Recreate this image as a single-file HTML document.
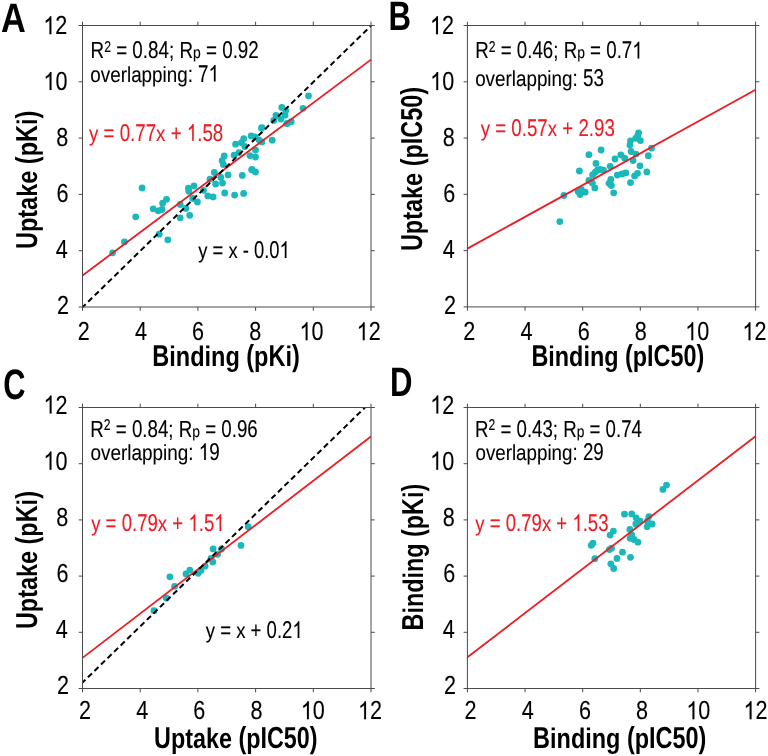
<!DOCTYPE html>
<html><head><meta charset="utf-8"><style>html,body{margin:0;padding:0;background:#fff;}svg{display:block;}</style></head>
<body><div style="filter:blur(0.4px)"><svg width="768" height="756" viewBox="0 0 768 756" text-rendering="geometricPrecision">
<rect width="768" height="756" fill="#fff"/>
<g fill="#1bb8bb"><circle cx="142.1" cy="187.9" r="3.4"/><circle cx="135.7" cy="216.8" r="3.4"/><circle cx="124.5" cy="241.9" r="3.4"/><circle cx="112.6" cy="252.8" r="3.4"/><circle cx="153.2" cy="208.8" r="3.4"/><circle cx="158.2" cy="210.8" r="3.4"/><circle cx="162.0" cy="209.5" r="3.4"/><circle cx="162.6" cy="203.2" r="3.4"/><circle cx="166.5" cy="199.3" r="3.4"/><circle cx="180.2" cy="204.5" r="3.4"/><circle cx="185.8" cy="208.4" r="3.4"/><circle cx="180.2" cy="217.8" r="3.4"/><circle cx="189.7" cy="215.3" r="3.4"/><circle cx="159.2" cy="234.2" r="3.4"/><circle cx="167.8" cy="239.8" r="3.4"/><circle cx="188.4" cy="188.2" r="3.4"/><circle cx="188.8" cy="191.2" r="3.4"/><circle cx="194.0" cy="186.0" r="3.4"/><circle cx="192.7" cy="198.5" r="3.4"/><circle cx="197.4" cy="201.9" r="3.4"/><circle cx="203.5" cy="190.3" r="3.4"/><circle cx="207.8" cy="195.9" r="3.4"/><circle cx="224.2" cy="156.0" r="3.4"/><circle cx="222.1" cy="160.7" r="3.4"/><circle cx="223.4" cy="164.6" r="3.4"/><circle cx="234.1" cy="155.2" r="3.4"/><circle cx="238.9" cy="152.6" r="3.4"/><circle cx="250.0" cy="155.6" r="3.4"/><circle cx="214.3" cy="172.4" r="3.4"/><circle cx="210.0" cy="179.2" r="3.4"/><circle cx="220.8" cy="177.5" r="3.4"/><circle cx="215.6" cy="184.0" r="3.4"/><circle cx="222.5" cy="183.1" r="3.4"/><circle cx="228.1" cy="174.9" r="3.4"/><circle cx="242.3" cy="175.4" r="3.4"/><circle cx="251.7" cy="169.8" r="3.4"/><circle cx="213.1" cy="196.9" r="3.4"/><circle cx="224.7" cy="193.0" r="3.4"/><circle cx="234.6" cy="195.1" r="3.4"/><circle cx="243.6" cy="193.4" r="3.4"/><circle cx="261.5" cy="128.2" r="3.4"/><circle cx="251.2" cy="135.9" r="3.4"/><circle cx="255.0" cy="136.8" r="3.4"/><circle cx="243.7" cy="138.7" r="3.4"/><circle cx="241.5" cy="142.7" r="3.4"/><circle cx="235.6" cy="144.2" r="3.4"/><circle cx="244.8" cy="146.5" r="3.4"/><circle cx="258.9" cy="139.8" r="3.4"/><circle cx="261.9" cy="141.9" r="3.4"/><circle cx="272.2" cy="140.2" r="3.4"/><circle cx="255.5" cy="150.1" r="3.4"/><circle cx="255.5" cy="157.0" r="3.4"/><circle cx="252.0" cy="169.4" r="3.4"/><circle cx="255.5" cy="172.0" r="3.4"/><circle cx="287.3" cy="123.4" r="3.4"/><circle cx="291.2" cy="121.7" r="3.4"/><circle cx="281.8" cy="107.4" r="3.4"/><circle cx="285.7" cy="110.6" r="3.4"/><circle cx="276.0" cy="115.5" r="3.4"/><circle cx="273.7" cy="120.4" r="3.4"/><circle cx="280.8" cy="119.1" r="3.4"/><circle cx="285.1" cy="115.2" r="3.4"/><circle cx="286.7" cy="123.6" r="3.4"/><circle cx="303.0" cy="108.3" r="3.4"/><circle cx="308.5" cy="95.8" r="3.4"/><circle cx="262.0" cy="127.6" r="3.4"/><circle cx="588.9" cy="154.7" r="3.4"/><circle cx="579.4" cy="171.0" r="3.4"/><circle cx="596.0" cy="163.4" r="3.4"/><circle cx="597.6" cy="170.0" r="3.4"/><circle cx="595.3" cy="172.2" r="3.4"/><circle cx="592.6" cy="174.8" r="3.4"/><circle cx="588.9" cy="180.5" r="3.4"/><circle cx="592.4" cy="183.1" r="3.4"/><circle cx="594.8" cy="187.9" r="3.4"/><circle cx="578.1" cy="191.4" r="3.4"/><circle cx="581.3" cy="189.4" r="3.4"/><circle cx="585.2" cy="192.2" r="3.4"/><circle cx="580.1" cy="194.5" r="3.4"/><circle cx="563.9" cy="195.5" r="3.4"/><circle cx="559.8" cy="221.6" r="3.4"/><circle cx="601.1" cy="150.0" r="3.4"/><circle cx="615.0" cy="159.0" r="3.4"/><circle cx="620.8" cy="154.8" r="3.4"/><circle cx="624.7" cy="158.2" r="3.4"/><circle cx="610.2" cy="166.3" r="3.4"/><circle cx="600.3" cy="169.4" r="3.4"/><circle cx="603.5" cy="170.2" r="3.4"/><circle cx="617.3" cy="175.1" r="3.4"/><circle cx="622.0" cy="174.0" r="3.4"/><circle cx="625.8" cy="172.9" r="3.4"/><circle cx="610.8" cy="179.5" r="3.4"/><circle cx="609.0" cy="183.3" r="3.4"/><circle cx="611.4" cy="185.5" r="3.4"/><circle cx="613.7" cy="192.8" r="3.4"/><circle cx="630.5" cy="182.6" r="3.4"/><circle cx="634.6" cy="175.9" r="3.4"/><circle cx="637.5" cy="173.3" r="3.4"/><circle cx="640.0" cy="165.8" r="3.4"/><circle cx="633.1" cy="160.6" r="3.4"/><circle cx="631.1" cy="151.5" r="3.4"/><circle cx="636.0" cy="154.1" r="3.4"/><circle cx="629.9" cy="145.1" r="3.4"/><circle cx="630.5" cy="140.8" r="3.4"/><circle cx="638.6" cy="133.0" r="3.4"/><circle cx="637.6" cy="135.9" r="3.4"/><circle cx="635.6" cy="138.3" r="3.4"/><circle cx="640.4" cy="140.6" r="3.4"/><circle cx="648.3" cy="155.7" r="3.4"/><circle cx="651.5" cy="148.2" r="3.4"/><circle cx="646.8" cy="171.9" r="3.4"/><circle cx="154.0" cy="610.7" r="3.4"/><circle cx="166.2" cy="598.0" r="3.4"/><circle cx="174.6" cy="586.3" r="3.4"/><circle cx="169.9" cy="576.8" r="3.4"/><circle cx="186.0" cy="573.9" r="3.4"/><circle cx="189.8" cy="570.1" r="3.4"/><circle cx="198.2" cy="573.3" r="3.4"/><circle cx="200.9" cy="570.4" r="3.4"/><circle cx="205.0" cy="566.2" r="3.4"/><circle cx="211.0" cy="558.5" r="3.4"/><circle cx="212.8" cy="562.0" r="3.4"/><circle cx="213.1" cy="548.9" r="3.4"/><circle cx="217.5" cy="554.3" r="3.4"/><circle cx="221.5" cy="549.0" r="3.4"/><circle cx="241.0" cy="545.4" r="3.4"/><circle cx="248.2" cy="526.7" r="3.4"/><circle cx="666.5" cy="485.1" r="3.4"/><circle cx="662.9" cy="489.4" r="3.4"/><circle cx="624.5" cy="514.2" r="3.4"/><circle cx="631.7" cy="513.9" r="3.4"/><circle cx="636.1" cy="517.8" r="3.4"/><circle cx="640.0" cy="521.1" r="3.4"/><circle cx="635.8" cy="524.0" r="3.4"/><circle cx="648.9" cy="516.6" r="3.4"/><circle cx="647.4" cy="521.1" r="3.4"/><circle cx="652.2" cy="524.0" r="3.4"/><circle cx="647.1" cy="526.7" r="3.4"/><circle cx="629.9" cy="529.4" r="3.4"/><circle cx="631.7" cy="534.8" r="3.4"/><circle cx="630.2" cy="538.3" r="3.4"/><circle cx="634.0" cy="539.5" r="3.4"/><circle cx="637.9" cy="542.2" r="3.4"/><circle cx="613.4" cy="531.1" r="3.4"/><circle cx="610.1" cy="535.1" r="3.4"/><circle cx="593.0" cy="543.1" r="3.4"/><circle cx="591.2" cy="545.3" r="3.4"/><circle cx="611.5" cy="548.2" r="3.4"/><circle cx="609.4" cy="549.6" r="3.4"/><circle cx="594.8" cy="558.7" r="3.4"/><circle cx="622.5" cy="552.2" r="3.4"/><circle cx="617.0" cy="558.4" r="3.4"/><circle cx="630.5" cy="557.3" r="3.4"/><circle cx="610.8" cy="563.8" r="3.4"/><circle cx="613.7" cy="568.5" r="3.4"/></g>
<line x1="82.50" y1="275.47" x2="371.00" y2="59.62" stroke="#ec1c24" stroke-width="1.8"/><line x1="82.79" y1="307.00" x2="371.00" y2="25.78" stroke="#000" stroke-width="2" stroke-dasharray="5.6 3.55" stroke-dashoffset="1.6"/><line x1="467.40" y1="248.65" x2="755.60" y2="89.75" stroke="#ec1c24" stroke-width="1.8"/><line x1="82.50" y1="657.87" x2="371.00" y2="436.48" stroke="#ec1c24" stroke-width="1.8"/><line x1="82.50" y1="682.60" x2="364.94" y2="407.50" stroke="#000" stroke-width="2" stroke-dasharray="5.6 3.55" stroke-dashoffset="1.6"/><line x1="467.40" y1="657.31" x2="755.60" y2="436.22" stroke="#ec1c24" stroke-width="1.8"/>
<g stroke="#4a4a4a" stroke-width="1" fill="none"><rect x="82.5" y="25.5" width="288.50" height="281.50" fill="none"/><path d="M82.50 307.00v3.8M82.50 25.50v-3.8M82.50 307.00h-3.8M371.00 307.00h3.8M140.20 307.00v3.8M140.20 25.50v-3.8M82.50 250.70h-3.8M371.00 250.70h3.8M197.90 307.00v3.8M197.90 25.50v-3.8M82.50 194.40h-3.8M371.00 194.40h3.8M255.60 307.00v3.8M255.60 25.50v-3.8M82.50 138.10h-3.8M371.00 138.10h3.8M313.30 307.00v3.8M313.30 25.50v-3.8M82.50 81.80h-3.8M371.00 81.80h3.8M371.00 307.00v3.8M371.00 25.50v-3.8M82.50 25.50h-3.8M371.00 25.50h3.8"/><rect x="467.4" y="25.5" width="288.20" height="281.40" fill="none"/><path d="M467.40 306.90v3.8M467.40 25.50v-3.8M467.40 306.90h-3.8M755.60 306.90h3.8M525.04 306.90v3.8M525.04 25.50v-3.8M467.40 250.62h-3.8M755.60 250.62h3.8M582.68 306.90v3.8M582.68 25.50v-3.8M467.40 194.34h-3.8M755.60 194.34h3.8M640.32 306.90v3.8M640.32 25.50v-3.8M467.40 138.06h-3.8M755.60 138.06h3.8M697.96 306.90v3.8M697.96 25.50v-3.8M467.40 81.78h-3.8M755.60 81.78h3.8M755.60 306.90v3.8M755.60 25.50v-3.8M467.40 25.50h-3.8M755.60 25.50h3.8"/><rect x="82.5" y="407.5" width="288.50" height="281.00" fill="none"/><path d="M82.50 688.50v3.8M82.50 407.50v-3.8M82.50 688.50h-3.8M371.00 688.50h3.8M140.20 688.50v3.8M140.20 407.50v-3.8M82.50 632.30h-3.8M371.00 632.30h3.8M197.90 688.50v3.8M197.90 407.50v-3.8M82.50 576.10h-3.8M371.00 576.10h3.8M255.60 688.50v3.8M255.60 407.50v-3.8M82.50 519.90h-3.8M371.00 519.90h3.8M313.30 688.50v3.8M313.30 407.50v-3.8M82.50 463.70h-3.8M371.00 463.70h3.8M371.00 688.50v3.8M371.00 407.50v-3.8M82.50 407.50h-3.8M371.00 407.50h3.8"/><rect x="467.4" y="407.5" width="288.20" height="281.00" fill="none"/><path d="M467.40 688.50v3.8M467.40 407.50v-3.8M467.40 688.50h-3.8M755.60 688.50h3.8M525.04 688.50v3.8M525.04 407.50v-3.8M467.40 632.30h-3.8M755.60 632.30h3.8M582.68 688.50v3.8M582.68 407.50v-3.8M467.40 576.10h-3.8M755.60 576.10h3.8M640.32 688.50v3.8M640.32 407.50v-3.8M467.40 519.90h-3.8M755.60 519.90h3.8M697.96 688.50v3.8M697.96 407.50v-3.8M467.40 463.70h-3.8M755.60 463.70h3.8M755.60 688.50v3.8M755.60 407.50v-3.8M467.40 407.50h-3.8M755.60 407.50h3.8"/></g>
<g transform="translate(0.91,32.00) scale(0.8370,1)"><g font-family="Liberation Sans" font-weight="bold" fill="#000" style="white-space:pre"><text x="0.00" y="0.00" font-size="41.00">A</text></g></g><g transform="translate(388.47,29.90) scale(0.7600,1)"><g font-family="Liberation Sans" font-weight="bold" fill="#000" style="white-space:pre"><text x="0.00" y="0.00" font-size="41.00">B</text></g></g><g transform="translate(3.21,398.60) scale(0.7222,1)"><g font-family="Liberation Sans" font-weight="bold" fill="#000" style="white-space:pre"><text x="0.00" y="0.00" font-size="42.60">C</text></g></g><g transform="translate(390.07,395.90) scale(0.7600,1)"><g font-family="Liberation Sans" font-weight="bold" fill="#000" style="white-space:pre"><text x="0.00" y="0.00" font-size="41.00">D</text></g></g><g transform="translate(90.54,58.40) scale(0.8073,1)"><g font-family="Liberation Sans" fill="#000" stroke="#000" stroke-width="0.12" stroke-linejoin="round" style="white-space:pre"><text x="0.00" y="0.00" font-size="23.30">R</text><text transform="translate(16.83,-6.76) scale(1,1.04)" font-size="15.15">2</text><text x="31.72" y="0.00" font-size="23.30">=</text><text transform="translate(51.80,0.00) scale(1,1.04)" font-size="23.30">0</text><text x="64.75" y="0.00" font-size="23.30">.</text><text transform="translate(71.22,0.00) scale(1,1.04)" font-size="23.30">84</text><text x="97.14" y="0.00" font-size="23.30">; R</text><text transform="translate(126.92,0.00) scale(1,0.935)" font-size="17.24">p</text><text x="142.98" y="0.00" font-size="23.30">=</text><text transform="translate(163.06,0.00) scale(1,1.04)" font-size="23.30">0</text><text x="176.02" y="0.00" font-size="23.30">.</text><text transform="translate(182.48,0.00) scale(1,1.04)" font-size="23.30">92</text></g></g><g transform="translate(90.34,81.60) scale(0.8078,1)"><g font-family="Liberation Sans" fill="#000" stroke="#000" stroke-width="0.12" stroke-linejoin="round" style="white-space:pre"><text transform="translate(0.00,0.00) scale(1,0.935)" font-size="23.30">overlapping</text><text x="120.45" y="0.00" font-size="23.30">:</text><text transform="translate(133.39,0.00) scale(1,1.04)" font-size="23.30">7 </text></g><g fill="#000" stroke="#000" stroke-width="10.5" stroke-linejoin="round"><path transform="translate(146.34,0.00) scale(0.01138,-0.01138)" d="M763 0L583 0L583 1147Q518 1085 412 1023Q306 961 223 930L223 1104Q369 1173 479 1271Q589 1369 635 1466L763 1466Z"/></g></g><g transform="translate(475.14,58.40) scale(0.8040,1)"><g font-family="Liberation Sans" fill="#000" stroke="#000" stroke-width="0.12" stroke-linejoin="round" style="white-space:pre"><text x="0.00" y="0.00" font-size="23.30">R</text><text transform="translate(16.83,-6.76) scale(1,1.04)" font-size="15.15">2</text><text x="31.72" y="0.00" font-size="23.30">=</text><text transform="translate(51.80,0.00) scale(1,1.04)" font-size="23.30">0</text><text x="64.75" y="0.00" font-size="23.30">.</text><text transform="translate(71.22,0.00) scale(1,1.04)" font-size="23.30">46</text><text x="97.14" y="0.00" font-size="23.30">; R</text><text transform="translate(126.92,0.00) scale(1,0.935)" font-size="17.24">p</text><text x="142.98" y="0.00" font-size="23.30">=</text><text transform="translate(163.06,0.00) scale(1,1.04)" font-size="23.30">0</text><text x="176.02" y="0.00" font-size="23.30">.</text><text transform="translate(182.48,0.00) scale(1,1.04)" font-size="23.30">7 </text></g><g fill="#000" stroke="#000" stroke-width="10.5" stroke-linejoin="round"><path transform="translate(195.44,0.00) scale(0.01138,-0.01138)" d="M763 0L583 0L583 1147Q518 1085 412 1023Q306 961 223 930L223 1104Q369 1173 479 1271Q589 1369 635 1466L763 1466Z"/></g></g><g transform="translate(475.14,86.00) scale(0.8083,1)"><g font-family="Liberation Sans" fill="#000" stroke="#000" stroke-width="0.12" stroke-linejoin="round" style="white-space:pre"><text transform="translate(0.00,0.00) scale(1,0.935)" font-size="23.30">overlapping</text><text x="120.45" y="0.00" font-size="23.30">:</text><text transform="translate(133.39,0.00) scale(1,1.04)" font-size="23.30">53</text></g></g><g transform="translate(90.34,437.00) scale(0.8034,1)"><g font-family="Liberation Sans" fill="#000" stroke="#000" stroke-width="0.12" stroke-linejoin="round" style="white-space:pre"><text x="0.00" y="0.00" font-size="23.30">R</text><text transform="translate(16.83,-6.76) scale(1,1.04)" font-size="15.15">2</text><text x="31.72" y="0.00" font-size="23.30">=</text><text transform="translate(51.80,0.00) scale(1,1.04)" font-size="23.30">0</text><text x="64.75" y="0.00" font-size="23.30">.</text><text transform="translate(71.22,0.00) scale(1,1.04)" font-size="23.30">84</text><text x="97.14" y="0.00" font-size="23.30">; R</text><text transform="translate(126.92,0.00) scale(1,0.935)" font-size="17.24">p</text><text x="142.98" y="0.00" font-size="23.30">=</text><text transform="translate(163.06,0.00) scale(1,1.04)" font-size="23.30">0</text><text x="176.02" y="0.00" font-size="23.30">.</text><text transform="translate(182.48,0.00) scale(1,1.04)" font-size="23.30">96</text></g></g><g transform="translate(90.44,460.00) scale(0.8121,1)"><g font-family="Liberation Sans" fill="#000" stroke="#000" stroke-width="0.12" stroke-linejoin="round" style="white-space:pre"><text transform="translate(0.00,0.00) scale(1,0.935)" font-size="23.30">overlapping</text><text x="120.45" y="0.00" font-size="23.30">:</text><text transform="translate(133.39,0.00) scale(1,1.04)" font-size="23.30"> 9</text></g><g fill="#000" stroke="#000" stroke-width="10.5" stroke-linejoin="round"><path transform="translate(133.39,0.00) scale(0.01138,-0.01138)" d="M763 0L583 0L583 1147Q518 1085 412 1023Q306 961 223 930L223 1104Q369 1173 479 1271Q589 1369 635 1466L763 1466Z"/></g></g><g transform="translate(475.05,437.00) scale(0.8005,1)"><g font-family="Liberation Sans" fill="#000" stroke="#000" stroke-width="0.12" stroke-linejoin="round" style="white-space:pre"><text x="0.00" y="0.00" font-size="23.30">R</text><text transform="translate(16.83,-6.76) scale(1,1.04)" font-size="15.15">2</text><text x="31.72" y="0.00" font-size="23.30">=</text><text transform="translate(51.80,0.00) scale(1,1.04)" font-size="23.30">0</text><text x="64.75" y="0.00" font-size="23.30">.</text><text transform="translate(71.22,0.00) scale(1,1.04)" font-size="23.30">43</text><text x="97.14" y="0.00" font-size="23.30">; R</text><text transform="translate(126.92,0.00) scale(1,0.935)" font-size="17.24">p</text><text x="142.98" y="0.00" font-size="23.30">=</text><text transform="translate(163.06,0.00) scale(1,1.04)" font-size="23.30">0</text><text x="176.02" y="0.00" font-size="23.30">.</text><text transform="translate(182.48,0.00) scale(1,1.04)" font-size="23.30">74</text></g></g><g transform="translate(475.44,460.00) scale(0.8057,1)"><g font-family="Liberation Sans" fill="#000" stroke="#000" stroke-width="0.12" stroke-linejoin="round" style="white-space:pre"><text transform="translate(0.00,0.00) scale(1,0.935)" font-size="23.30">overlapping</text><text x="120.45" y="0.00" font-size="23.30">:</text><text transform="translate(133.39,0.00) scale(1,1.04)" font-size="23.30">29</text></g></g><g transform="translate(89.05,140.80) scale(0.8030,1)"><g font-family="Liberation Sans" fill="#ec1c24" stroke="#ec1c24" stroke-width="0.12" stroke-linejoin="round" style="white-space:pre"><text transform="translate(0.00,0.00) scale(1,0.935)" font-size="23.30">y</text><text x="18.11" y="0.00" font-size="23.30">=</text><text transform="translate(38.19,0.00) scale(1,1.04)" font-size="23.30">0</text><text x="51.14" y="0.00" font-size="23.30">.</text><text transform="translate(57.62,0.00) scale(1,1.04)" font-size="23.30">77</text><text transform="translate(83.53,0.00) scale(1,0.935)" font-size="23.30">x</text><text x="101.66" y="0.00" font-size="23.30">+</text><text x="134.69" y="0.00" font-size="23.30">.</text><text transform="translate(141.16,0.00) scale(1,1.04)" font-size="23.30">58</text></g><g fill="#ec1c24" stroke="#ec1c24" stroke-width="10.5" stroke-linejoin="round"><path transform="translate(121.73,0.00) scale(0.01138,-0.01138)" d="M763 0L583 0L583 1147Q518 1085 412 1023Q306 961 223 930L223 1104Q369 1173 479 1271Q589 1369 635 1466L763 1466Z"/></g></g><g transform="translate(480.65,135.80) scale(0.8030,1)"><g font-family="Liberation Sans" fill="#ec1c24" stroke="#ec1c24" stroke-width="0.12" stroke-linejoin="round" style="white-space:pre"><text transform="translate(0.00,0.00) scale(1,0.935)" font-size="23.30">y</text><text x="18.11" y="0.00" font-size="23.30">=</text><text transform="translate(38.19,0.00) scale(1,1.04)" font-size="23.30">0</text><text x="51.14" y="0.00" font-size="23.30">.</text><text transform="translate(57.62,0.00) scale(1,1.04)" font-size="23.30">57</text><text transform="translate(83.53,0.00) scale(1,0.935)" font-size="23.30">x</text><text x="101.66" y="0.00" font-size="23.30">+</text><text transform="translate(121.73,0.00) scale(1,1.04)" font-size="23.30">2</text><text x="134.69" y="0.00" font-size="23.30">.</text><text transform="translate(141.16,0.00) scale(1,1.04)" font-size="23.30">93</text></g></g><g transform="translate(91.15,531.00) scale(0.7988,1)"><g font-family="Liberation Sans" fill="#ec1c24" stroke="#ec1c24" stroke-width="0.12" stroke-linejoin="round" style="white-space:pre"><text transform="translate(0.00,0.00) scale(1,0.935)" font-size="23.30">y</text><text x="18.11" y="0.00" font-size="23.30">=</text><text transform="translate(38.19,0.00) scale(1,1.04)" font-size="23.30">0</text><text x="51.14" y="0.00" font-size="23.30">.</text><text transform="translate(57.62,0.00) scale(1,1.04)" font-size="23.30">79</text><text transform="translate(83.53,0.00) scale(1,0.935)" font-size="23.30">x</text><text x="101.66" y="0.00" font-size="23.30">+</text><text x="134.69" y="0.00" font-size="23.30">.</text><text transform="translate(141.16,0.00) scale(1,1.04)" font-size="23.30">5 </text></g><g fill="#ec1c24" stroke="#ec1c24" stroke-width="10.5" stroke-linejoin="round"><path transform="translate(121.73,0.00) scale(0.01138,-0.01138)" d="M763 0L583 0L583 1147Q518 1085 412 1023Q306 961 223 930L223 1104Q369 1173 479 1271Q589 1369 635 1466L763 1466Z"/><path transform="translate(154.12,0.00) scale(0.01138,-0.01138)" d="M763 0L583 0L583 1147Q518 1085 412 1023Q306 961 223 930L223 1104Q369 1173 479 1271Q589 1369 635 1466L763 1466Z"/></g></g><g transform="translate(475.35,531.00) scale(0.7970,1)"><g font-family="Liberation Sans" fill="#ec1c24" stroke="#ec1c24" stroke-width="0.12" stroke-linejoin="round" style="white-space:pre"><text transform="translate(0.00,0.00) scale(1,0.935)" font-size="23.30">y</text><text x="18.11" y="0.00" font-size="23.30">=</text><text transform="translate(38.19,0.00) scale(1,1.04)" font-size="23.30">0</text><text x="51.14" y="0.00" font-size="23.30">.</text><text transform="translate(57.62,0.00) scale(1,1.04)" font-size="23.30">79</text><text transform="translate(83.53,0.00) scale(1,0.935)" font-size="23.30">x</text><text x="101.66" y="0.00" font-size="23.30">+</text><text x="134.69" y="0.00" font-size="23.30">.</text><text transform="translate(141.16,0.00) scale(1,1.04)" font-size="23.30">53</text></g><g fill="#ec1c24" stroke="#ec1c24" stroke-width="10.5" stroke-linejoin="round"><path transform="translate(121.73,0.00) scale(0.01138,-0.01138)" d="M763 0L583 0L583 1147Q518 1085 412 1023Q306 961 223 930L223 1104Q369 1173 479 1271Q589 1369 635 1466L763 1466Z"/></g></g><g transform="translate(198.25,258.00) scale(0.7902,1)"><g font-family="Liberation Sans" fill="#000" stroke="#000" stroke-width="0.12" stroke-linejoin="round" style="white-space:pre"><text transform="translate(0.00,0.00) scale(1,0.935)" font-size="23.30">y</text><text x="18.11" y="0.00" font-size="23.30">=</text><text transform="translate(38.19,0.00) scale(1,0.935)" font-size="23.30">x</text><text x="56.31" y="0.00" font-size="23.30">-</text><text transform="translate(70.55,0.00) scale(1,1.04)" font-size="23.30">0</text><text x="83.50" y="0.00" font-size="23.30">.</text><text transform="translate(89.97,0.00) scale(1,1.04)" font-size="23.30">0 </text></g><g fill="#000" stroke="#000" stroke-width="10.5" stroke-linejoin="round"><path transform="translate(102.92,0.00) scale(0.01138,-0.01138)" d="M763 0L583 0L583 1147Q518 1085 412 1023Q306 961 223 930L223 1104Q369 1173 479 1271Q589 1369 635 1466L763 1466Z"/></g></g><g transform="translate(205.75,638.00) scale(0.7966,1)"><g font-family="Liberation Sans" fill="#000" stroke="#000" stroke-width="0.12" stroke-linejoin="round" style="white-space:pre"><text transform="translate(0.00,0.00) scale(1,0.935)" font-size="23.30">y</text><text x="18.11" y="0.00" font-size="23.30">=</text><text transform="translate(38.19,0.00) scale(1,0.935)" font-size="23.30">x</text><text x="56.31" y="0.00" font-size="23.30">+</text><text transform="translate(76.39,0.00) scale(1,1.04)" font-size="23.30">0</text><text x="89.34" y="0.00" font-size="23.30">.</text><text transform="translate(95.81,0.00) scale(1,1.04)" font-size="23.30">2 </text></g><g fill="#000" stroke="#000" stroke-width="10.5" stroke-linejoin="round"><path transform="translate(108.78,0.00) scale(0.01138,-0.01138)" d="M763 0L583 0L583 1147Q518 1085 412 1023Q306 961 223 930L223 1104Q369 1173 479 1271Q589 1369 635 1466L763 1466Z"/></g></g><g transform="translate(152.30,365.60) scale(0.7759,1)"><g font-family="Liberation Sans" font-weight="bold" fill="#000" style="white-space:pre"><text x="0.00" y="0.00" font-size="30.30">B</text><text transform="translate(21.88,0.00) scale(1,0.935)" font-size="30.30">inding</text><text x="121.16" y="0.00" font-size="30.30">(</text><text transform="translate(131.23,0.00) scale(1,0.935)" font-size="30.30">p</text><text x="149.75" y="0.00" font-size="30.30">K</text><text transform="translate(171.62,0.00) scale(1,0.935)" font-size="30.30">i</text><text x="180.05" y="0.00" font-size="30.30">)</text></g></g><g transform="translate(531.41,365.60) scale(0.7723,1)"><g font-family="Liberation Sans" font-weight="bold" fill="#000" style="white-space:pre"><text x="0.00" y="0.00" font-size="30.30">B</text><text transform="translate(21.88,0.00) scale(1,0.935)" font-size="30.30">inding</text><text x="121.16" y="0.00" font-size="30.30">(</text><text transform="translate(131.23,0.00) scale(1,0.935)" font-size="30.30">p</text><text x="149.75" y="0.00" font-size="30.30">IC50)</text></g></g><g transform="translate(154.11,748.20) scale(0.7703,1)"><g font-family="Liberation Sans" font-weight="bold" fill="#000" style="white-space:pre"><text x="0.00" y="0.00" font-size="30.30">U</text><text transform="translate(21.88,0.00) scale(1,0.935)" font-size="30.30">ptake</text><text x="109.44" y="0.00" font-size="30.30">(</text><text transform="translate(119.52,0.00) scale(1,0.935)" font-size="30.30">p</text><text x="138.03" y="0.00" font-size="30.30">IC50)</text></g></g><g transform="translate(533.10,748.20) scale(0.7741,1)"><g font-family="Liberation Sans" font-weight="bold" fill="#000" style="white-space:pre"><text x="0.00" y="0.00" font-size="30.30">B</text><text transform="translate(21.88,0.00) scale(1,0.935)" font-size="30.30">inding</text><text x="121.16" y="0.00" font-size="30.30">(</text><text transform="translate(131.23,0.00) scale(1,0.935)" font-size="30.30">p</text><text x="149.75" y="0.00" font-size="30.30">IC50)</text></g></g><g transform="translate(36.50,249.10) rotate(-90) scale(0.7760,1)"><g font-family="Liberation Sans" font-weight="bold" fill="#000" style="white-space:pre"><text x="0.00" y="0.00" font-size="30.30">U</text><text transform="translate(21.88,0.00) scale(1,0.935)" font-size="30.30">ptake</text><text x="109.44" y="0.00" font-size="30.30">(</text><text transform="translate(119.52,0.00) scale(1,0.935)" font-size="30.30">p</text><text x="138.03" y="0.00" font-size="30.30">K</text><text transform="translate(159.91,0.00) scale(1,0.935)" font-size="30.30">i</text><text x="168.33" y="0.00" font-size="30.30">)</text></g></g><g transform="translate(422.40,251.10) rotate(-90) scale(0.7742,1)"><g font-family="Liberation Sans" font-weight="bold" fill="#000" style="white-space:pre"><text x="0.00" y="0.00" font-size="30.30">U</text><text transform="translate(21.88,0.00) scale(1,0.935)" font-size="30.30">ptake</text><text x="109.44" y="0.00" font-size="30.30">(</text><text transform="translate(119.52,0.00) scale(1,0.935)" font-size="30.30">p</text><text x="138.03" y="0.00" font-size="30.30">IC50)</text></g></g><g transform="translate(36.50,629.10) rotate(-90) scale(0.7737,1)"><g font-family="Liberation Sans" font-weight="bold" fill="#000" style="white-space:pre"><text x="0.00" y="0.00" font-size="30.30">U</text><text transform="translate(21.88,0.00) scale(1,0.935)" font-size="30.30">ptake</text><text x="109.44" y="0.00" font-size="30.30">(</text><text transform="translate(119.52,0.00) scale(1,0.935)" font-size="30.30">p</text><text x="138.03" y="0.00" font-size="30.30">K</text><text transform="translate(159.91,0.00) scale(1,0.935)" font-size="30.30">i</text><text x="168.33" y="0.00" font-size="30.30">)</text></g></g><g transform="translate(422.60,630.39) rotate(-90) scale(0.7711,1)"><g font-family="Liberation Sans" font-weight="bold" fill="#000" style="white-space:pre"><text x="0.00" y="0.00" font-size="30.30">B</text><text transform="translate(21.88,0.00) scale(1,0.935)" font-size="30.30">inding</text><text x="121.16" y="0.00" font-size="30.30">(</text><text transform="translate(131.23,0.00) scale(1,0.935)" font-size="30.30">p</text><text x="149.75" y="0.00" font-size="30.30">K</text><text transform="translate(171.62,0.00) scale(1,0.935)" font-size="30.30">i</text><text x="180.05" y="0.00" font-size="30.30">)</text></g></g><g transform="translate(77.76,340.30) scale(0.856,1)"><g font-family="Liberation Sans" fill="#000" stroke="#000" stroke-width="0.12" stroke-linejoin="round" style="white-space:pre"><text transform="translate(0.00,0.00) scale(1,1.04)" font-size="25.20">2</text></g></g><g transform="translate(134.91,340.30) scale(0.856,1)"><g font-family="Liberation Sans" fill="#000" stroke="#000" stroke-width="0.12" stroke-linejoin="round" style="white-space:pre"><text transform="translate(0.00,0.00) scale(1,1.04)" font-size="25.20">4</text></g></g><g transform="translate(192.06,340.30) scale(0.856,1)"><g font-family="Liberation Sans" fill="#000" stroke="#000" stroke-width="0.12" stroke-linejoin="round" style="white-space:pre"><text transform="translate(0.00,0.00) scale(1,1.04)" font-size="25.20">6</text></g></g><g transform="translate(249.21,340.30) scale(0.856,1)"><g font-family="Liberation Sans" fill="#000" stroke="#000" stroke-width="0.12" stroke-linejoin="round" style="white-space:pre"><text transform="translate(0.00,0.00) scale(1,1.04)" font-size="25.20">8</text></g></g><g transform="translate(299.51,340.30) scale(0.856,1)"><g font-family="Liberation Sans" fill="#000" stroke="#000" stroke-width="0.12" stroke-linejoin="round" style="white-space:pre"><text transform="translate(0.00,0.00) scale(1,1.04)" font-size="25.20"> 0</text></g><g fill="#000" stroke="#000" stroke-width="9.8" stroke-linejoin="round"><path transform="translate(0.00,0.00) scale(0.01230,-0.01230)" d="M763 0L583 0L583 1147Q518 1085 412 1023Q306 961 223 930L223 1104Q369 1173 479 1271Q589 1369 635 1466L763 1466Z"/></g></g><g transform="translate(356.66,340.30) scale(0.856,1)"><g font-family="Liberation Sans" fill="#000" stroke="#000" stroke-width="0.12" stroke-linejoin="round" style="white-space:pre"><text transform="translate(0.00,0.00) scale(1,1.04)" font-size="25.20"> 2</text></g><g fill="#000" stroke="#000" stroke-width="9.8" stroke-linejoin="round"><path transform="translate(0.00,0.00) scale(0.01230,-0.01230)" d="M763 0L583 0L583 1147Q518 1085 412 1023Q306 961 223 930L223 1104Q369 1173 479 1271Q589 1369 635 1466L763 1466Z"/></g></g><g transform="translate(463.26,340.30) scale(0.856,1)"><g font-family="Liberation Sans" fill="#000" stroke="#000" stroke-width="0.12" stroke-linejoin="round" style="white-space:pre"><text transform="translate(0.00,0.00) scale(1,1.04)" font-size="25.20">2</text></g></g><g transform="translate(520.46,340.30) scale(0.856,1)"><g font-family="Liberation Sans" fill="#000" stroke="#000" stroke-width="0.12" stroke-linejoin="round" style="white-space:pre"><text transform="translate(0.00,0.00) scale(1,1.04)" font-size="25.20">4</text></g></g><g transform="translate(577.66,340.30) scale(0.856,1)"><g font-family="Liberation Sans" fill="#000" stroke="#000" stroke-width="0.12" stroke-linejoin="round" style="white-space:pre"><text transform="translate(0.00,0.00) scale(1,1.04)" font-size="25.20">6</text></g></g><g transform="translate(634.86,340.30) scale(0.856,1)"><g font-family="Liberation Sans" fill="#000" stroke="#000" stroke-width="0.12" stroke-linejoin="round" style="white-space:pre"><text transform="translate(0.00,0.00) scale(1,1.04)" font-size="25.20">8</text></g></g><g transform="translate(685.21,340.30) scale(0.856,1)"><g font-family="Liberation Sans" fill="#000" stroke="#000" stroke-width="0.12" stroke-linejoin="round" style="white-space:pre"><text transform="translate(0.00,0.00) scale(1,1.04)" font-size="25.20"> 0</text></g><g fill="#000" stroke="#000" stroke-width="9.8" stroke-linejoin="round"><path transform="translate(0.00,0.00) scale(0.01230,-0.01230)" d="M763 0L583 0L583 1147Q518 1085 412 1023Q306 961 223 930L223 1104Q369 1173 479 1271Q589 1369 635 1466L763 1466Z"/></g></g><g transform="translate(742.41,340.30) scale(0.856,1)"><g font-family="Liberation Sans" fill="#000" stroke="#000" stroke-width="0.12" stroke-linejoin="round" style="white-space:pre"><text transform="translate(0.00,0.00) scale(1,1.04)" font-size="25.20"> 2</text></g><g fill="#000" stroke="#000" stroke-width="9.8" stroke-linejoin="round"><path transform="translate(0.00,0.00) scale(0.01230,-0.01230)" d="M763 0L583 0L583 1147Q518 1085 412 1023Q306 961 223 930L223 1104Q369 1173 479 1271Q589 1369 635 1466L763 1466Z"/></g></g><g transform="translate(78.96,719.30) scale(0.856,1)"><g font-family="Liberation Sans" fill="#000" stroke="#000" stroke-width="0.12" stroke-linejoin="round" style="white-space:pre"><text transform="translate(0.00,0.00) scale(1,1.04)" font-size="25.20">2</text></g></g><g transform="translate(136.14,719.30) scale(0.856,1)"><g font-family="Liberation Sans" fill="#000" stroke="#000" stroke-width="0.12" stroke-linejoin="round" style="white-space:pre"><text transform="translate(0.00,0.00) scale(1,1.04)" font-size="25.20">4</text></g></g><g transform="translate(193.32,719.30) scale(0.856,1)"><g font-family="Liberation Sans" fill="#000" stroke="#000" stroke-width="0.12" stroke-linejoin="round" style="white-space:pre"><text transform="translate(0.00,0.00) scale(1,1.04)" font-size="25.20">6</text></g></g><g transform="translate(250.50,719.30) scale(0.856,1)"><g font-family="Liberation Sans" fill="#000" stroke="#000" stroke-width="0.12" stroke-linejoin="round" style="white-space:pre"><text transform="translate(0.00,0.00) scale(1,1.04)" font-size="25.20">8</text></g></g><g transform="translate(300.83,719.30) scale(0.856,1)"><g font-family="Liberation Sans" fill="#000" stroke="#000" stroke-width="0.12" stroke-linejoin="round" style="white-space:pre"><text transform="translate(0.00,0.00) scale(1,1.04)" font-size="25.20"> 0</text></g><g fill="#000" stroke="#000" stroke-width="9.8" stroke-linejoin="round"><path transform="translate(0.00,0.00) scale(0.01230,-0.01230)" d="M763 0L583 0L583 1147Q518 1085 412 1023Q306 961 223 930L223 1104Q369 1173 479 1271Q589 1369 635 1466L763 1466Z"/></g></g><g transform="translate(358.01,719.30) scale(0.856,1)"><g font-family="Liberation Sans" fill="#000" stroke="#000" stroke-width="0.12" stroke-linejoin="round" style="white-space:pre"><text transform="translate(0.00,0.00) scale(1,1.04)" font-size="25.20"> 2</text></g><g fill="#000" stroke="#000" stroke-width="9.8" stroke-linejoin="round"><path transform="translate(0.00,0.00) scale(0.01230,-0.01230)" d="M763 0L583 0L583 1147Q518 1085 412 1023Q306 961 223 930L223 1104Q369 1173 479 1271Q589 1369 635 1466L763 1466Z"/></g></g><g transform="translate(464.61,719.30) scale(0.856,1)"><g font-family="Liberation Sans" fill="#000" stroke="#000" stroke-width="0.12" stroke-linejoin="round" style="white-space:pre"><text transform="translate(0.00,0.00) scale(1,1.04)" font-size="25.20">2</text></g></g><g transform="translate(521.76,719.30) scale(0.856,1)"><g font-family="Liberation Sans" fill="#000" stroke="#000" stroke-width="0.12" stroke-linejoin="round" style="white-space:pre"><text transform="translate(0.00,0.00) scale(1,1.04)" font-size="25.20">4</text></g></g><g transform="translate(578.91,719.30) scale(0.856,1)"><g font-family="Liberation Sans" fill="#000" stroke="#000" stroke-width="0.12" stroke-linejoin="round" style="white-space:pre"><text transform="translate(0.00,0.00) scale(1,1.04)" font-size="25.20">6</text></g></g><g transform="translate(636.06,719.30) scale(0.856,1)"><g font-family="Liberation Sans" fill="#000" stroke="#000" stroke-width="0.12" stroke-linejoin="round" style="white-space:pre"><text transform="translate(0.00,0.00) scale(1,1.04)" font-size="25.20">8</text></g></g><g transform="translate(686.36,719.30) scale(0.856,1)"><g font-family="Liberation Sans" fill="#000" stroke="#000" stroke-width="0.12" stroke-linejoin="round" style="white-space:pre"><text transform="translate(0.00,0.00) scale(1,1.04)" font-size="25.20"> 0</text></g><g fill="#000" stroke="#000" stroke-width="9.8" stroke-linejoin="round"><path transform="translate(0.00,0.00) scale(0.01230,-0.01230)" d="M763 0L583 0L583 1147Q518 1085 412 1023Q306 961 223 930L223 1104Q369 1173 479 1271Q589 1369 635 1466L763 1466Z"/></g></g><g transform="translate(743.51,719.30) scale(0.856,1)"><g font-family="Liberation Sans" fill="#000" stroke="#000" stroke-width="0.12" stroke-linejoin="round" style="white-space:pre"><text transform="translate(0.00,0.00) scale(1,1.04)" font-size="25.20"> 2</text></g><g fill="#000" stroke="#000" stroke-width="9.8" stroke-linejoin="round"><path transform="translate(0.00,0.00) scale(0.01230,-0.01230)" d="M763 0L583 0L583 1147Q518 1085 412 1023Q306 961 223 930L223 1104Q369 1173 479 1271Q589 1369 635 1466L763 1466Z"/></g></g><g transform="translate(57.02,313.50) scale(0.856,1)"><g font-family="Liberation Sans" fill="#000" stroke="#000" stroke-width="0.12" stroke-linejoin="round" style="white-space:pre"><text transform="translate(0.00,0.00) scale(1,1.04)" font-size="25.20">2</text></g></g><g transform="translate(55.87,257.65) scale(0.856,1)"><g font-family="Liberation Sans" fill="#000" stroke="#000" stroke-width="0.12" stroke-linejoin="round" style="white-space:pre"><text transform="translate(0.00,0.00) scale(1,1.04)" font-size="25.20">4</text></g></g><g transform="translate(56.42,201.80) scale(0.856,1)"><g font-family="Liberation Sans" fill="#000" stroke="#000" stroke-width="0.12" stroke-linejoin="round" style="white-space:pre"><text transform="translate(0.00,0.00) scale(1,1.04)" font-size="25.20">6</text></g></g><g transform="translate(56.22,145.95) scale(0.856,1)"><g font-family="Liberation Sans" fill="#000" stroke="#000" stroke-width="0.12" stroke-linejoin="round" style="white-space:pre"><text transform="translate(0.00,0.00) scale(1,1.04)" font-size="25.20">8</text></g></g><g transform="translate(43.44,90.10) scale(0.856,1)"><g font-family="Liberation Sans" fill="#000" stroke="#000" stroke-width="0.12" stroke-linejoin="round" style="white-space:pre"><text transform="translate(0.00,0.00) scale(1,1.04)" font-size="25.20"> 0</text></g><g fill="#000" stroke="#000" stroke-width="9.8" stroke-linejoin="round"><path transform="translate(0.00,0.00) scale(0.01230,-0.01230)" d="M763 0L583 0L583 1147Q518 1085 412 1023Q306 961 223 930L223 1104Q369 1173 479 1271Q589 1369 635 1466L763 1466Z"/></g></g><g transform="translate(43.34,34.25) scale(0.856,1)"><g font-family="Liberation Sans" fill="#000" stroke="#000" stroke-width="0.12" stroke-linejoin="round" style="white-space:pre"><text transform="translate(0.00,0.00) scale(1,1.04)" font-size="25.20"> 2</text></g><g fill="#000" stroke="#000" stroke-width="9.8" stroke-linejoin="round"><path transform="translate(0.00,0.00) scale(0.01230,-0.01230)" d="M763 0L583 0L583 1147Q518 1085 412 1023Q306 961 223 930L223 1104Q369 1173 479 1271Q589 1369 635 1466L763 1466Z"/></g></g><g transform="translate(443.92,313.50) scale(0.856,1)"><g font-family="Liberation Sans" fill="#000" stroke="#000" stroke-width="0.12" stroke-linejoin="round" style="white-space:pre"><text transform="translate(0.00,0.00) scale(1,1.04)" font-size="25.20">2</text></g></g><g transform="translate(442.77,257.65) scale(0.856,1)"><g font-family="Liberation Sans" fill="#000" stroke="#000" stroke-width="0.12" stroke-linejoin="round" style="white-space:pre"><text transform="translate(0.00,0.00) scale(1,1.04)" font-size="25.20">4</text></g></g><g transform="translate(443.22,201.80) scale(0.856,1)"><g font-family="Liberation Sans" fill="#000" stroke="#000" stroke-width="0.12" stroke-linejoin="round" style="white-space:pre"><text transform="translate(0.00,0.00) scale(1,1.04)" font-size="25.20">6</text></g></g><g transform="translate(442.82,145.95) scale(0.856,1)"><g font-family="Liberation Sans" fill="#000" stroke="#000" stroke-width="0.12" stroke-linejoin="round" style="white-space:pre"><text transform="translate(0.00,0.00) scale(1,1.04)" font-size="25.20">8</text></g></g><g transform="translate(430.14,90.10) scale(0.856,1)"><g font-family="Liberation Sans" fill="#000" stroke="#000" stroke-width="0.12" stroke-linejoin="round" style="white-space:pre"><text transform="translate(0.00,0.00) scale(1,1.04)" font-size="25.20"> 0</text></g><g fill="#000" stroke="#000" stroke-width="9.8" stroke-linejoin="round"><path transform="translate(0.00,0.00) scale(0.01230,-0.01230)" d="M763 0L583 0L583 1147Q518 1085 412 1023Q306 961 223 930L223 1104Q369 1173 479 1271Q589 1369 635 1466L763 1466Z"/></g></g><g transform="translate(429.94,34.25) scale(0.856,1)"><g font-family="Liberation Sans" fill="#000" stroke="#000" stroke-width="0.12" stroke-linejoin="round" style="white-space:pre"><text transform="translate(0.00,0.00) scale(1,1.04)" font-size="25.20"> 2</text></g><g fill="#000" stroke="#000" stroke-width="9.8" stroke-linejoin="round"><path transform="translate(0.00,0.00) scale(0.01230,-0.01230)" d="M763 0L583 0L583 1147Q518 1085 412 1023Q306 961 223 930L223 1104Q369 1173 479 1271Q589 1369 635 1466L763 1466Z"/></g></g><g transform="translate(57.02,693.80) scale(0.856,1)"><g font-family="Liberation Sans" fill="#000" stroke="#000" stroke-width="0.12" stroke-linejoin="round" style="white-space:pre"><text transform="translate(0.00,0.00) scale(1,1.04)" font-size="25.20">2</text></g></g><g transform="translate(55.87,637.76) scale(0.856,1)"><g font-family="Liberation Sans" fill="#000" stroke="#000" stroke-width="0.12" stroke-linejoin="round" style="white-space:pre"><text transform="translate(0.00,0.00) scale(1,1.04)" font-size="25.20">4</text></g></g><g transform="translate(56.42,581.72) scale(0.856,1)"><g font-family="Liberation Sans" fill="#000" stroke="#000" stroke-width="0.12" stroke-linejoin="round" style="white-space:pre"><text transform="translate(0.00,0.00) scale(1,1.04)" font-size="25.20">6</text></g></g><g transform="translate(56.22,525.68) scale(0.856,1)"><g font-family="Liberation Sans" fill="#000" stroke="#000" stroke-width="0.12" stroke-linejoin="round" style="white-space:pre"><text transform="translate(0.00,0.00) scale(1,1.04)" font-size="25.20">8</text></g></g><g transform="translate(43.44,469.64) scale(0.856,1)"><g font-family="Liberation Sans" fill="#000" stroke="#000" stroke-width="0.12" stroke-linejoin="round" style="white-space:pre"><text transform="translate(0.00,0.00) scale(1,1.04)" font-size="25.20"> 0</text></g><g fill="#000" stroke="#000" stroke-width="9.8" stroke-linejoin="round"><path transform="translate(0.00,0.00) scale(0.01230,-0.01230)" d="M763 0L583 0L583 1147Q518 1085 412 1023Q306 961 223 930L223 1104Q369 1173 479 1271Q589 1369 635 1466L763 1466Z"/></g></g><g transform="translate(43.54,413.60) scale(0.856,1)"><g font-family="Liberation Sans" fill="#000" stroke="#000" stroke-width="0.12" stroke-linejoin="round" style="white-space:pre"><text transform="translate(0.00,0.00) scale(1,1.04)" font-size="25.20"> 2</text></g><g fill="#000" stroke="#000" stroke-width="9.8" stroke-linejoin="round"><path transform="translate(0.00,0.00) scale(0.01230,-0.01230)" d="M763 0L583 0L583 1147Q518 1085 412 1023Q306 961 223 930L223 1104Q369 1173 479 1271Q589 1369 635 1466L763 1466Z"/></g></g><g transform="translate(443.92,693.80) scale(0.856,1)"><g font-family="Liberation Sans" fill="#000" stroke="#000" stroke-width="0.12" stroke-linejoin="round" style="white-space:pre"><text transform="translate(0.00,0.00) scale(1,1.04)" font-size="25.20">2</text></g></g><g transform="translate(442.77,637.76) scale(0.856,1)"><g font-family="Liberation Sans" fill="#000" stroke="#000" stroke-width="0.12" stroke-linejoin="round" style="white-space:pre"><text transform="translate(0.00,0.00) scale(1,1.04)" font-size="25.20">4</text></g></g><g transform="translate(443.22,581.72) scale(0.856,1)"><g font-family="Liberation Sans" fill="#000" stroke="#000" stroke-width="0.12" stroke-linejoin="round" style="white-space:pre"><text transform="translate(0.00,0.00) scale(1,1.04)" font-size="25.20">6</text></g></g><g transform="translate(442.82,525.68) scale(0.856,1)"><g font-family="Liberation Sans" fill="#000" stroke="#000" stroke-width="0.12" stroke-linejoin="round" style="white-space:pre"><text transform="translate(0.00,0.00) scale(1,1.04)" font-size="25.20">8</text></g></g><g transform="translate(430.14,469.64) scale(0.856,1)"><g font-family="Liberation Sans" fill="#000" stroke="#000" stroke-width="0.12" stroke-linejoin="round" style="white-space:pre"><text transform="translate(0.00,0.00) scale(1,1.04)" font-size="25.20"> 0</text></g><g fill="#000" stroke="#000" stroke-width="9.8" stroke-linejoin="round"><path transform="translate(0.00,0.00) scale(0.01230,-0.01230)" d="M763 0L583 0L583 1147Q518 1085 412 1023Q306 961 223 930L223 1104Q369 1173 479 1271Q589 1369 635 1466L763 1466Z"/></g></g><g transform="translate(430.24,413.60) scale(0.856,1)"><g font-family="Liberation Sans" fill="#000" stroke="#000" stroke-width="0.12" stroke-linejoin="round" style="white-space:pre"><text transform="translate(0.00,0.00) scale(1,1.04)" font-size="25.20"> 2</text></g><g fill="#000" stroke="#000" stroke-width="9.8" stroke-linejoin="round"><path transform="translate(0.00,0.00) scale(0.01230,-0.01230)" d="M763 0L583 0L583 1147Q518 1085 412 1023Q306 961 223 930L223 1104Q369 1173 479 1271Q589 1369 635 1466L763 1466Z"/></g></g>
</svg></div></body></html>
